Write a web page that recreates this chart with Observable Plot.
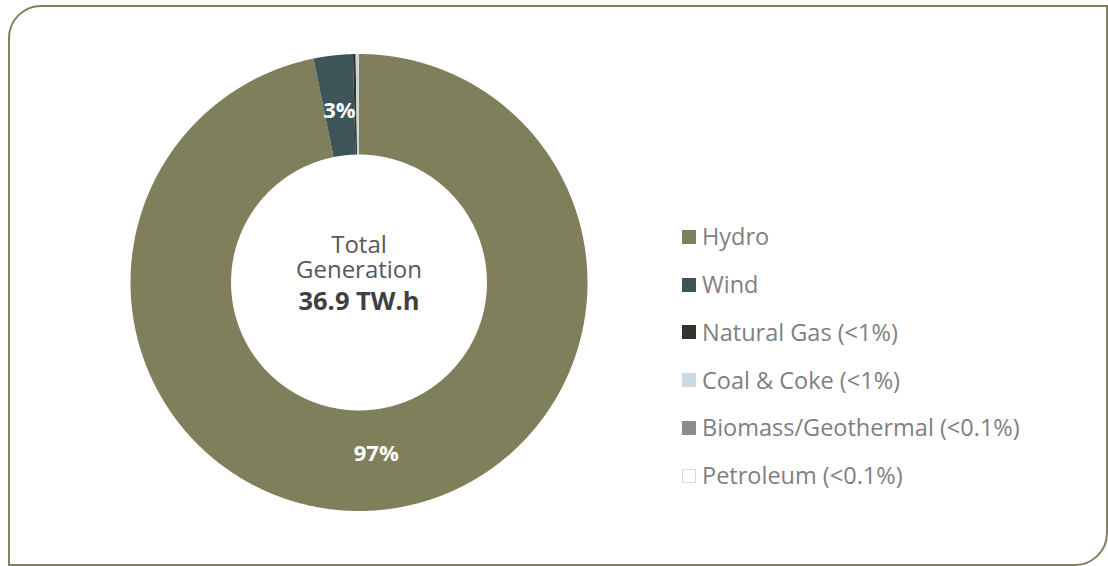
<!DOCTYPE html>
<html>
<head>
<meta charset="utf-8">
<script src="https://cdn.jsdelivr.net/npm/d3@7"></script>
<script src="https://cdn.jsdelivr.net/npm/@observablehq/plot@0.6"></script>
<style>
  html, body { margin: 0; padding: 0; background: #fff; }
  body { width: 1108px; height: 566px; position: relative; overflow: hidden; font-family: "Open Sans", sans-serif; }
  #chart { position: absolute; left: 0; top: 0; }
  #frame { position: absolute; left: 8px; top: 5px; width: 1100px; height: 561px; box-sizing: border-box;
           border: 2px solid #80805c; border-top-left-radius: 33px; border-bottom-right-radius: 33px; pointer-events: none; }
  #legend { position: absolute; left: 682px; top: 213px; }
  .row { height: 47.8px; display: flex; align-items: center; }
  .sw { width: 14px; height: 14px; box-sizing: border-box; margin-right: 6px; flex: none; }
  .lab { font-size: 23.5px; color: #7f7f7f; white-space: nowrap; line-height: 1; }
</style>
</head>
<body>
<div id="chart"></div>
<div id="legend"></div>
<div id="frame"></div>
<script>
// ---- data ----
const sources = ["Hydro", "Wind", "Natural Gas", "Coal & Coke", "Biomass/Geothermal", "Petroleum"];
const legendLabels = ["Hydro", "Wind", "Natural Gas (<1%)", "Coal & Coke (<1%)", "Biomass/Geothermal (<0.1%)", "Petroleum (<0.1%)"];
const generationTWh = [35.72, 1.02, 0.07, 0.055, 0.02, 0.012];
const colors = ["#7f7f5b", "#3d5559", "#33332b", "#c9dbe0", "#8c8c8c", "#ffffff"];
const swatchBorders = ["none", "none", "none", "none", "none", "1px solid #d9d9d9"];
const centerTitle = "Total\nGeneration";
const centerValue = "36.9 TW.h";
const labelledSources = ["Hydro", "Wind"];

// ---- geometry of the doughnut from the data ----
const innerR = 0.56, outerR = 1, labelR = 0.755;
const total = d3.sum(generationTWh);
const table = sources.map((s, i) => ({source: s, value: generationTWh[i]}));
const arcs = d3.pie().sort(null).value(d => d.value).startAngle(0).endAngle(2 * Math.PI)(table);

const pts = [];
for (const a of arcs) {
  const n = Math.max(2, Math.ceil((a.endAngle - a.startAngle) / 0.005));
  for (let k = 0; k <= n; k++) {
    const t = a.startAngle + (a.endAngle - a.startAngle) * k / n;
    pts.push({source: a.data.source, x: outerR * Math.sin(t), y: outerR * Math.cos(t)});
  }
  for (let k = n; k >= 0; k--) {
    const t = a.startAngle + (a.endAngle - a.startAngle) * k / n;
    pts.push({source: a.data.source, x: innerR * Math.sin(t), y: innerR * Math.cos(t)});
  }
}
const labels = arcs.filter(a => labelledSources.includes(a.data.source)).map(a => {
  const m = (a.startAngle + a.endAngle) / 2;
  return {x: labelR * Math.sin(m), y: labelR * Math.cos(m), text: Math.round(a.data.value / total * 100) + "%"};
});

const plot = Plot.plot({
  width: 1108, height: 566,
  marginTop: 0, marginRight: 0, marginBottom: 0, marginLeft: 0,
  x: {domain: [-1, 1], range: [130, 587], axis: null},
  y: {domain: [-1, 1], range: [510.5, 53.5], axis: null},
  color: {type: "ordinal", domain: sources, range: colors},
  style: {fontFamily: "Open Sans, sans-serif", background: "transparent"},
  marks: [
    Plot.line(pts, {x: "x", y: "y", z: "source", fill: "source", stroke: null, curve: "linear"}),
    Plot.text(labels, {x: "x", y: "y", text: "text", fill: "white", fontWeight: "bold", fontSize: 22}),
    Plot.text([centerTitle], {x: () => 0, y: () => 0, text: d => d, lineAnchor: "bottom", lineHeight: 1.04, dy: -5, fontSize: 24, fill: "#595959"}),
    Plot.text([centerValue], {x: () => 0, y: () => 0, text: d => d, lineAnchor: "bottom", dy: 27, fontSize: 25.5, fontWeight: "bold", fill: "#404040"})
  ]
});
document.getElementById("chart").appendChild(plot);

// ---- legend ----
const leg = d3.select("#legend");
legendLabels.forEach((l, i) => {
  const row = leg.append("div").attr("class", "row");
  row.append("div").attr("class", "sw").style("background", colors[i]).style("border", swatchBorders[i]);
  row.append("div").attr("class", "lab").text(l);
});
</script>
</body>
</html>
